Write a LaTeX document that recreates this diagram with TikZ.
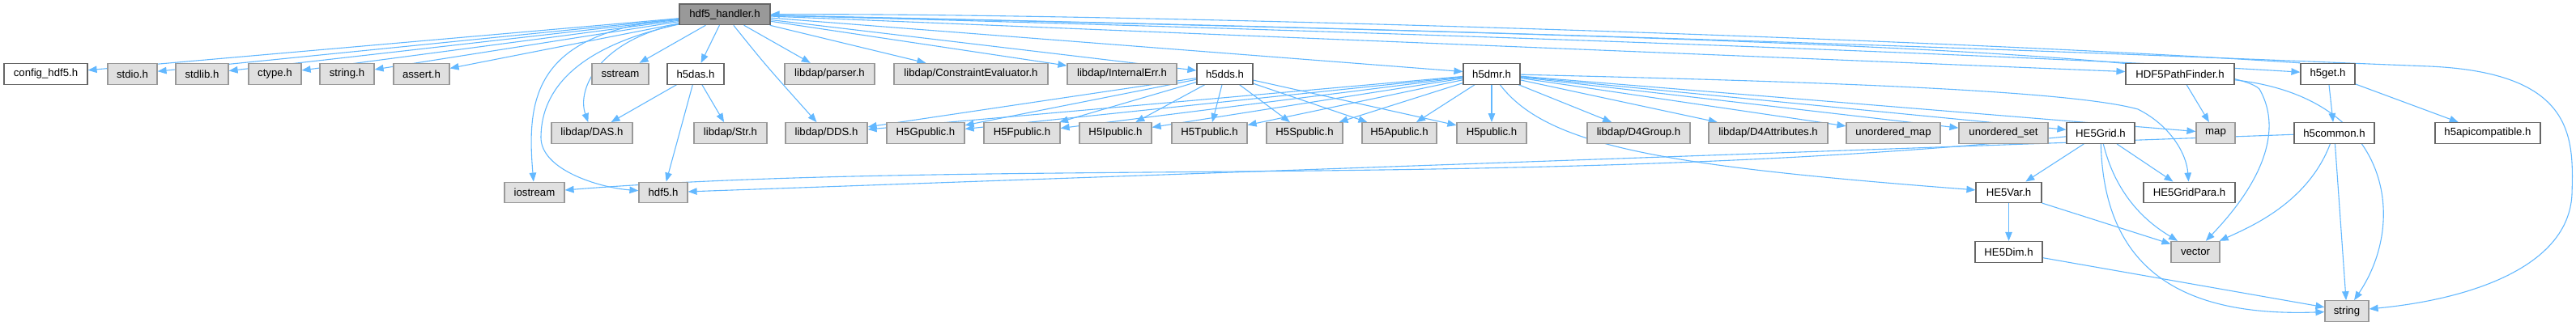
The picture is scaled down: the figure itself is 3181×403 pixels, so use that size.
\documentclass[tikz,border=0pt]{standalone}
\usepackage{fontspec}
\setmainfont{Liberation Sans}
\usetikzlibrary{arrows.meta}
\definecolor{depblue}{RGB}{99,184,255}
\definecolor{sysfill}{RGB}{224,224,224}
\definecolor{sysline}{RGB}{153,153,153}
\definecolor{locline}{RGB}{102,102,102}
\definecolor{rootfill}{RGB}{153,153,153}
\newcommand{\yA}{17.8}
\newcommand{\yB}{91.3}
\newcommand{\yC}{164.5}
\newcommand{\yD}{238}
\newcommand{\yE}{311.3}
\newcommand{\yF}{384.6}
\tikzset{
  incbox/.style ={draw,line width=1.2pt,inner sep=0pt,minimum height=25.7pt,
                  font=\fontsize{13.2}{15}\selectfont},
  sysbox/.style ={incbox,draw=sysline,fill=sysfill},
  locbox/.style ={incbox,draw=locline,fill=white},
  topbox/.style ={incbox,draw=locline,fill=rootfill},
  dep/.style    ={draw=depblue,line width=1.1pt,-{Triangle[length=11pt,width=8.5pt]}},
}
\pgfdeclarelayer{deplines}
\pgfsetlayers{deplines,main}
\newcommand{\sysinc}[5]{\node[sysbox,minimum width=#4pt] (#1) at (#2,#3) {#5};}
\newcommand{\locinc}[5]{\node[locbox,minimum width=#4pt] (#1) at (#2,#3) {#5};}
\newcommand{\dep}[2]{\begin{pgfonlayer}{deplines}\draw[dep] (#1) -- (#2);\end{pgfonlayer}}

\begin{document}
\begin{tikzpicture}[x=1pt,y=-1pt]
  \useasboundingbox (0,0) rectangle (3181,403);
  \node[topbox,minimum width=112pt] (hdfh) at (895,\yA) {hdf5\_handler.h};
  \locinc{cfg}{56.5}{\yB}{103}{config\_hdf5.h}
  \sysinc{stdio}{163.5}{\yB}{61}{stdio.h}
  \sysinc{stdlib}{249.5}{\yB}{65}{stdlib.h}
  \sysinc{ctype}{339.5}{\yB}{65}{ctype.h}
  \sysinc{cstr}{428.5}{\yB}{67}{string.h}
  \sysinc{assrt}{520.5}{\yB}{69}{assert.h}
  \sysinc{sstr}{766}{\yB}{70}{sstream}
  \locinc{das}{859}{\yB}{70}{h5das.h}
  \sysinc{parser}{1024.5}{\yB}{111}{libdap/parser.h}
  \sysinc{ceval}{1199}{\yB}{190}{libdap/ConstraintEvaluator.h}
  \sysinc{ierr}{1385.5}{\yB}{135}{libdap/InternalErr.h}
  \locinc{dds}{1512.5}{\yB}{69}{h5dds.h}
  \locinc{dmr}{1842}{\yB}{70}{h5dmr.h}
  \locinc{pfind}{2692}{\yB}{134}{HDF5PathFinder.h}
  \locinc{hget}{2874.5}{\yB}{67}{h5get.h}
  \sysinc{ldas}{731}{\yC}{100}{libdap/DAS.h}
  \sysinc{lstr}{902}{\yC}{90}{libdap/Str.h}
  \sysinc{ldds}{1020.5}{\yC}{101}{libdap/DDS.h}
  \sysinc{hg}{1143}{\yC}{96}{H5Gpublic.h}
  \sysinc{hf}{1262}{\yC}{94}{H5Fpublic.h}
  \sysinc{hi}{1377.5}{\yC}{89}{H5Ipublic.h}
  \sysinc{ht}{1493.5}{\yC}{93}{H5Tpublic.h}
  \sysinc{hs}{1611}{\yC}{94}{H5Spublic.h}
  \sysinc{ha}{1728}{\yC}{92}{H5Apublic.h}
  \sysinc{hp}{1842}{\yC}{86}{H5public.h}
  \sysinc{dgrp}{2023.5}{\yC}{127}{libdap/D4Group.h}
  \sysinc{datt}{2183.5}{\yC}{147}{libdap/D4Attributes.h}
  \sysinc{umap}{2338}{\yC}{116}{unordered\_map}
  \sysinc{uset}{2474}{\yC}{110}{unordered\_set}
  \locinc{grid}{2594}{\yC}{84}{HE5Grid.h}
  \sysinc{smap}{2736}{\yC}{48}{map}
  \locinc{hcom}{2882.5}{\yC}{99}{h5common.h}
  \locinc{hapi}{3072}{\yC}{130}{h5apicompatible.h}
  \sysinc{iost}{660}{\yD}{74}{iostream}
  \sysinc{hdf}{819}{\yD}{60}{hdf5.h}
  \locinc{hvar}{2480.5}{\yD}{81}{HE5Var.h}
  \locinc{gpara}{2703.5}{\yD}{113}{HE5GridPara.h}
  \locinc{hdim}{2480.5}{\yE}{83}{HE5Dim.h}
  \sysinc{svec}{2711}{\yE}{60}{vector}
  \sysinc{sstring}{2898}{\yF}{54}{string}

  \dep{hdfh}{cfg}
  \dep{hdfh}{stdio}
  \dep{hdfh}{stdlib}
  \dep{hdfh}{ctype}
  \dep{hdfh}{cstr}
  \dep{hdfh}{assrt}
  \dep{hdfh}{sstr}
  \dep{hdfh}{das}
  \dep{hdfh}{parser}
  \dep{hdfh}{ceval}
  \dep{hdfh}{ierr}
  \dep{hdfh}{dds}
  \dep{hdfh}{dmr}
  \dep{hdfh}{pfind}
  \dep{das}{ldas}
  \dep{das}{lstr}
  \dep{das}{hdf}
  \dep{dds}{ldds}
  \dep{dds}{hg}
  \dep{dds}{hf}
  \dep{dds}{hi}
  \dep{dds}{ht}
  \dep{dds}{hs}
  \dep{dds}{ha}
  \dep{dds}{hp}
  \dep{dmr}{ldds}
  \dep{dmr}{hg}
  \dep{dmr}{hf}
  \dep{dmr}{hi}
  \dep{dmr}{ht}
  \dep{dmr}{hs}
  \dep{dmr}{ha}
  \dep{dmr}{hp}
  \dep{dmr}{dgrp}
  \dep{dmr}{datt}
  \dep{dmr}{umap}
  \dep{dmr}{uset}
  \dep{dmr}{grid}
  \dep{dmr}{smap}
  \dep{pfind}{smap}
  \dep{hget}{hcom}
  \dep{hget}{hapi}
  \dep{hcom}{hdf}
  \dep{hcom}{sstring}
  \dep{grid}{hvar}
  \dep{grid}{gpara}
  \dep{hvar}{hdim}
  \dep{hvar}{svec}
  \dep{hdim}{sstring}
  \begin{pgfonlayer}{deplines}
    \draw[dep] (hdfh) .. controls (660,40) and (650,120) .. (iost);
    \draw[dep] (hdfh) .. controls (700,60) and (668,120) .. (668,170)
                      .. controls (668,210) and (740,232) .. (hdf);
    \draw[dep] (hdfh) .. controls (740,50) and (712,110) .. (ldas);
    \draw[dep] (hdfh) .. controls (945,80) .. (ldds);
    \draw[dep] (hdfh) .. controls (1400,30) and (2400,62) .. (hget);
    \draw[dep] (hget.north west) .. controls (2400,48) and (1400,16) .. (hdfh.east);
    \draw[dep] (hdfh) .. controls (1900,40) and (2740,60) .. (2790,110)
                      .. controls (2830,180) and (2760,260) .. (svec);
    \draw[dep] (hdfh) .. controls (2000,40) and (2700,70) .. (3000,82)
                      .. controls (3180,90) and (3178,170) .. (3176,240)
                      .. controls (3172,330) and (3050,370) .. (sstring);
    \draw[dep] (dmr) .. controls (2200,100) and (2550,110) .. (2640,135)
                     .. controls (2680,155) and (2700,190) .. (gpara);
    \draw[dep] (dmr) .. controls (1910,180) and (2050,205) .. (hvar);
    \draw[dep] (pfind) .. controls (2950,120) and (2975,270) .. (sstring);
    \draw[dep] (hcom) .. controls (2850,250) and (2780,280) .. (svec);
    \draw[dep] (grid) .. controls (2615,250) and (2660,280) .. (svec);
    \draw[dep] (grid) .. controls (2598,330) and (2690,392) .. (sstring);
    \draw[dep] (grid) .. controls (1900,235) and (1200,195) .. (iost);
  \end{pgfonlayer}
\end{tikzpicture}
\end{document}
